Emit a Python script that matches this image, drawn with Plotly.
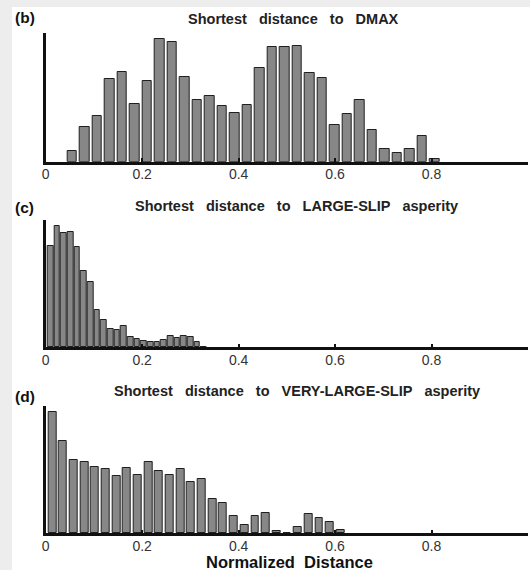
import numpy as np
import plotly.graph_objects as go

# ---------------- data ----------------
panel_letters = ["(b)", "(c)", "(d)"]
NB = "\u00a0\u00a0\u00a0"
panel_titles = [
    NB.join(["Shortest", "distance", "to", "DMAX"]),
    NB.join(["Shortest", "distance", "to", "LARGE-SLIP", "asperity"]),
    NB.join(["Shortest", "distance", "to", "VERY-LARGE-SLIP", "asperity"]),
]
x_tick_values = [0, 0.2, 0.4, 0.6, 0.8, 1]
x_tick_labels = ["0", "0.2", "0.4", "0.6", "0.8", "1"]
x_axis_title = "Normalized\u00a0\u00a0Distance"

# (b) shortest distance to DMAX: histogram bins (first bin centre, bin step) and heights
dmax_bin_first = 0.0546
dmax_bin_step = 0.02593
dmax_counts = [31, 103, 138, 246, 267, 172, 240, 366, 358, 253,
               184, 197, 168, 145, 169, 281, 343, 342, 347, 266,
               250, 110, 143, 186, 95, 38, 26, 38, 78, 8]
dmax_ymax = 385

# (c) shortest distance to LARGE-SLIP asperity
large_bin_first = 0.0103
large_bin_step = 0.0138
large_counts = [304, 364, 344, 345, 301, 229, 197, 113, 82, 56,
                52, 64, 32, 24, 20, 17, 17, 22, 34, 27,
                33, 31, 15, 2]
large_ymax = 382

# (d) shortest distance to VERY-LARGE-SLIP asperity
vlarge_bin_first = 0.0138
vlarge_bin_step = 0.02213
vlarge_counts = [365, 277, 220, 214, 200, 194, 171, 195, 174, 214,
                 187, 175, 192, 154, 162, 102, 92, 51, 24, 52,
                 60, 8, 0, 20, 59, 45, 35, 10]
vlarge_ymax = 382

# ---------------- layout helpers ----------------
W, H = 530, 570


def fx(px):
    return px / W


def fy(py):
    return 1 - py / H


BAR_FILL = "#878787"
BAR_EDGE = "#1f1f1f"
FONT = "Liberation Sans, Arial, sans-serif"

panels = [
    dict(first=dmax_bin_first, step=dmax_bin_step, counts=dmax_counts, ymax=dmax_ymax,
         fill=0.77, top=33, base=161.7, title_y=18.7, title_x=293.5, letter_y=17.5),
    dict(first=large_bin_first, step=large_bin_step, counts=large_counts, ymax=large_ymax,
         fill=0.85, top=220, base=347.3, title_y=205.5, title_x=296.5, letter_y=207),
    dict(first=vlarge_bin_first, step=vlarge_bin_step, counts=vlarge_counts, ymax=vlarge_ymax,
         fill=0.74, top=406, base=533.3, title_y=391, title_x=296.5, letter_y=397),
]

fig = go.Figure()
annotations = []
layout_axes = {}
x_left_px, x_right_px = 45.7, 528.0

for i, p in enumerate(panels):
    n = i + 1
    suffix = "" if n == 1 else str(n)
    centres = p["first"] + p["step"] * np.arange(len(p["counts"]))
    fig.add_trace(go.Bar(
        x=centres, y=p["counts"], width=p["step"] * p["fill"],
        marker=dict(color=BAR_FILL, line=dict(color=BAR_EDGE, width=1)),
        xaxis="x" + suffix, yaxis="y" + suffix, showlegend=False,
        hoverinfo="x+y",
    ))
    layout_axes["xaxis" + suffix] = dict(
        domain=[fx(x_left_px), fx(x_right_px)], range=[0, 1],
        anchor="y" + suffix, showgrid=False, zeroline=False,
        showline=True, linecolor="#111111", linewidth=2.5,
        ticks="inside", ticklen=4, tickwidth=2, tickcolor="#111111",
        tickvals=x_tick_values, ticktext=x_tick_labels,
        tickfont=dict(family=FONT, size=14, color="#333333"),
        ticklabelstandoff=-2,
        automargin=False, fixedrange=True,
    )
    layout_axes["yaxis" + suffix] = dict(
        domain=[fy(p["base"]), fy(p["top"])], range=[0, p["ymax"]],
        anchor="x" + suffix, showgrid=False, zeroline=False,
        showline=True, linecolor="#111111", linewidth=2.5,
        ticks="", showticklabels=False, automargin=False, fixedrange=True,
    )
    annotations.append(dict(
        text="<b>" + panel_titles[i] + "</b>", x=fx(p["title_x"]), y=fy(p["title_y"]),
        xref="paper", yref="paper", xanchor="center", yanchor="middle",
        showarrow=False, font=dict(family=FONT, size=14.5, color="#222222"),
    ))
    annotations.append(dict(
        text="<b>" + panel_letters[i] + "</b>", x=fx(12.5), y=fy(p["letter_y"]),
        xref="paper", yref="paper", xanchor="left", yanchor="middle",
        showarrow=False, font=dict(family=FONT, size=15.5, color="#111111"),
    ))

annotations.append(dict(
    text="<b>" + x_axis_title + "</b>", x=fx(289), y=fy(562),
    xref="paper", yref="paper", xanchor="center", yanchor="middle",
    showarrow=False, font=dict(family=FONT, size=16.5, color="#111111"),
))

shapes = [
    dict(type="rect", xref="paper", yref="paper", x0=0, x1=fx(12), y0=0, y1=1,
         fillcolor="#ededed", line=dict(width=0), layer="above"),
    dict(type="rect", xref="paper", yref="paper", x0=0, x1=1, y0=fy(7), y1=1,
         fillcolor="#ededed", line=dict(width=0), layer="above"),
]

fig.update_layout(
    width=W, height=H,
    margin=dict(l=0, r=0, t=0, b=0),
    paper_bgcolor="white", plot_bgcolor="rgba(0,0,0,0)",
    annotations=annotations, shapes=shapes,
    bargap=0, showlegend=False,
    **layout_axes,
)

fig.write_html(
    "out.html",
    config={"displayModeBar": False},
    post_script="document.body.style.margin='0px';document.body.style.padding='0px';"
                "document.body.style.overflow='hidden';",
)
